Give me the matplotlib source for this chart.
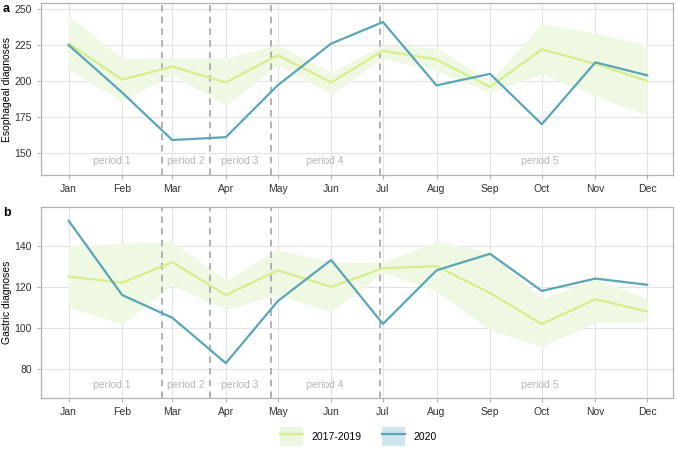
import numpy as np
import pandas as pd
import matplotlib
matplotlib.use("Agg")
import matplotlib.pyplot as plt
from matplotlib.patches import Patch
from matplotlib.lines import Line2D

# data
months = pd.date_range("2020-01-01", periods=12, freq="MS")
month_labels = ["Jan", "Feb", "Mar", "Apr", "May", "Jun", "Jul", "Aug", "Sep", "Oct", "Nov", "Dec"]

eso_ref = [226, 201, 210, 199, 218, 199, 221, 215, 196, 222, 212, 200]
eso_ref_hi = [245, 216, 216, 216, 225, 206, 225, 223, 200, 240, 233, 225]
eso_ref_lo = [208, 186, 205, 183, 211, 191, 216, 207, 192, 205, 190, 176]
eso_2020 = [225, 192, 159, 161, 197, 226, 241, 197, 205, 170, 213, 204]

gas_ref = [125, 122, 132, 116, 128, 120, 129, 130, 117, 102, 114, 108]
gas_ref_hi = [140, 141, 142, 123, 138, 132, 132, 142, 137, 114, 124, 114]
gas_ref_lo = [110, 102, 121, 109, 116, 108, 127, 118, 99, 91, 103, 103]
gas_2020 = [152, 116, 105, 83, 113, 133, 102, 128, 136, 118, 124, 121]

cuts = pd.to_datetime(["2020-02-24", "2020-03-23", "2020-04-27", "2020-06-29"])
period_names = ["period 1", "period 2", "period 3", "period 4", "period 5"]
period_pos = pd.to_datetime(["2020-01-26", "2020-03-09", "2020-04-09", "2020-05-28", "2020-09-30"])

green = "#d4ef8c"
band = "#eef8e3"
blue = "#5ba5b8"

plt.rcParams["font.family"] = ["Liberation Sans", "DejaVu Sans"]
fig = plt.figure(figsize=(6.76, 4.49), dpi=100)
ax1 = fig.add_axes([0.0607, 0.6102, 0.935, 0.383])
ax2 = fig.add_axes([0.0607, 0.1136, 0.935, 0.4254])

def panel(ax, ref, lo, hi, cur, ylim, yticks, ylab, label_y, tag):
    ax.fill_between(months, lo, hi, color=band, lw=0, zorder=1)
    ax.plot(months, ref, color=green, lw=1.6, zorder=3)
    ax.plot(months, cur, color=blue, lw=1.6, zorder=4)
    for c in cuts:
        ax.axvline(c, color="#a6a6a6", lw=1.2, ls=(0, (4, 3)), zorder=2)
    for name, p in zip(period_names, period_pos):
        ax.text(p, label_y, name, color="#b5b5b5", fontsize=7.5, ha="center", va="center")
    ax.set_xlim(pd.Timestamp("2019-12-16"), pd.Timestamp("2020-12-16"))
    ax.set_ylim(*ylim)
    ax.set_yticks(yticks)
    ax.set_xticks(months)
    ax.set_xticklabels(month_labels)
    ax.grid(True, color="#e3e3e3", lw=0.8, zorder=0)
    ax.set_axisbelow(True)
    for s in ax.spines.values():
        s.set_color("#b3b3b3")
        s.set_linewidth(0.9)
    ax.tick_params(colors="#b3b3b3", labelcolor="#333333", labelsize=7.5, length=3, width=0.8)
    ax.set_ylabel(ylab, fontsize=7.5, color="#000000")
    ax.yaxis.set_label_coords(-0.046, 0.5)
    ax.text(-0.06, 1.0, tag, transform=ax.transAxes, fontsize=9, fontweight="bold", va="top")

panel(ax1, eso_ref, eso_ref_lo, eso_ref_hi, eso_2020, (134.7, 254.2), [150, 175, 200, 225, 250],
      "Esophageal diagnoses", 144.5, "a")
panel(ax2, gas_ref, gas_ref_lo, gas_ref_hi, gas_2020, (66.1, 158.7), [80, 100, 120, 140],
      "Gastric diagnoses", 72.5, "b")

h1 = (Patch(facecolor="#eaf6dd", edgecolor="none"), Line2D([], [], color=green, lw=1.6))
h2 = (Patch(facecolor="#cfe6ec", edgecolor="none"), Line2D([], [], color=blue, lw=1.6))
fig.legend([h1, h2], ["2017-2019", "2020"], loc="center", bbox_to_anchor=(0.53, 0.027),
           ncol=2, frameon=False, fontsize=7.5, handlelength=2.2, handleheight=2.4,
           columnspacing=2.0, handletextpad=0.8)

fig.savefig("out.png", dpi=100)
